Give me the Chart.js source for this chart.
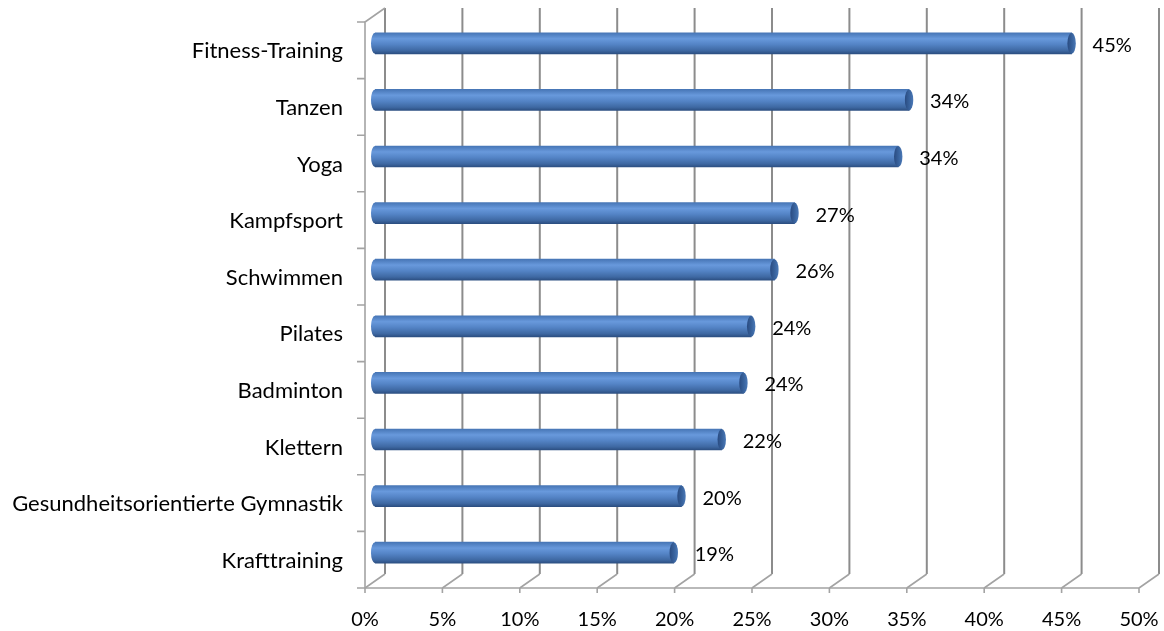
<!DOCTYPE html>
<html>
<head>
<meta charset="utf-8">
<script src="https://cdn.jsdelivr.net/npm/chart.js@4/dist/chart.umd.min.js"></script>
<style>
  html, body { margin: 0; padding: 0; background: #fff; }
  #wrap { width: 1164px; height: 631px; }
</style>
</head>
<body>
<div id="wrap"><canvas id="chart" width="1164" height="631"></canvas></div>
<script>
// Daten
const categories = ['Fitness-Training', 'Tanzen', 'Yoga', 'Kampfsport', 'Schwimmen',
    'Pilates', 'Badminton', 'Klettern', 'Gesundheitsorientierte Gymnastik', 'Krafttraining'];
const values = [45.0, 34.5, 33.8, 27.1, 25.8, 24.3, 23.8, 22.4, 19.8, 19.3];
const valueLabels = ['45%', '34%', '34%', '27%', '26%', '24%', '24%', '22%', '20%', '19%'];
const xTicks = [0, 5, 10, 15, 20, 25, 30, 35, 40, 45, 50];

const FONT = 'Lato, "Open Sans", sans-serif';
const DX = 10, DY = 7;      // halbe Tiefe (3D Versatz)
const BAR_H = 21;

// Gradient für den Zylinder
function cylGradient(c, y) {
    const g = c.createLinearGradient(0, y - BAR_H / 2, 0, y + BAR_H / 2);
    g.addColorStop(0, '#4776b6');
    g.addColorStop(0.28, '#6899dc');
    g.addColorStop(0.55, '#5484c6');
    g.addColorStop(0.85, '#3e68a2');
    g.addColorStop(1, '#2c4f82');
    return g;
}

function noPadding(s) {
    s.paddingTop = 0;
    s.paddingBottom = 0;
    s.paddingLeft = 0;
    s.paddingRight = 0;
}

// 3D Gitter hinter den Balken
const gridPlugin = {
    id: 'grid3d',
    beforeDatasetsDraw(chart) {
        const { ctx, chartArea: a, scales: { x, y } } = chart;
        ctx.save();
        ctx.lineWidth = 2;
        ctx.strokeStyle = '#8c8c8c';
        xTicks.forEach(v => {
            const px = x.getPixelForValue(v);
            ctx.beginPath();
            ctx.moveTo(px + DX, a.top - DY);
            ctx.lineTo(px + DX, a.bottom - DY);
            ctx.stroke();
        });
        ctx.strokeStyle = '#a3a3a3';
        ctx.lineWidth = 1.6;
        xTicks.forEach(v => {
            const px = x.getPixelForValue(v);
            ctx.beginPath();
            ctx.moveTo(px + DX, a.bottom - DY);
            ctx.lineTo(px - DX, a.bottom + DY);
            ctx.moveTo(px - DX, a.bottom + DY);
            ctx.lineTo(px - DX, a.bottom + DY + 5);
            ctx.stroke();
        });
        const x0 = x.getPixelForValue(0), x1 = x.getPixelForValue(50);
        ctx.beginPath();
        ctx.moveTo(x0 - DX, a.bottom + DY);
        ctx.lineTo(x1 - DX, a.bottom + DY);
        // linke Wand
        ctx.moveTo(x0 - DX, a.bottom + DY);
        ctx.lineTo(x0 - DX, a.top + DY);
        ctx.lineTo(x0 + DX, a.top - DY);
        ctx.stroke();
        // Teilstriche links
        const bounds = [a.top];
        for (let i = 0; i < categories.length - 1; i++) {
            bounds.push((y.getPixelForValue(i) + y.getPixelForValue(i + 1)) / 2);
        }
        bounds.push(a.bottom);
        ctx.beginPath();
        bounds.forEach(b => {
            ctx.moveTo(x0 - DX - 8, b + DY);
            ctx.lineTo(x0 - DX, b + DY);
        });
        ctx.stroke();
        ctx.restore();
    },
    afterDatasetsDraw(chart) {
        const { ctx } = chart;
        const meta = chart.getDatasetMeta(0);
        ctx.save();
        meta.data.forEach((bar, i) => {
            const yc = bar.y;
            // linkes Ende
            ctx.beginPath();
            ctx.ellipse(bar.base, yc, 4, BAR_H / 2, 0, Math.PI / 2, Math.PI * 1.5);
            ctx.fillStyle = cylGradient(ctx, yc);
            ctx.fill();
            // Deckfläche rechts
            const g = ctx.createLinearGradient(bar.x - 4, 0, bar.x + 4, 0);
            g.addColorStop(0, '#2a4c82');
            g.addColorStop(0.6, '#3a65a0');
            g.addColorStop(1, '#4a78b6');
            ctx.beginPath();
            ctx.ellipse(bar.x, yc, 4.2, BAR_H / 2, 0, 0, Math.PI * 2);
            ctx.fillStyle = g;
            ctx.fill();
            // Wertbeschriftung
            ctx.fillStyle = '#000';
            ctx.font = '20px ' + FONT;
            ctx.textAlign = 'left';
            ctx.textBaseline = 'middle';
            ctx.fillText(valueLabels[i], bar.x + 21, yc + 2);
        });
        ctx.restore();
    }
};

const ctx = document.getElementById('chart').getContext('2d');
new Chart(ctx, {
    type: 'bar',
    data: {
        labels: categories,
        datasets: [{
            data: values,
            barThickness: BAR_H,
            borderWidth: 0,
            backgroundColor: (c) => {
                const chart = c.chart;
                if (!chart.chartArea) return '#4f81bd';
                return cylGradient(chart.ctx, chart.scales.y.getPixelForValue(c.dataIndex));
            }
        }]
    },
    options: {
        indexAxis: 'y',
        responsive: false,
        animation: false,
        devicePixelRatio: 1,
        layout: { padding: { top: 15, right: 15, left: 0, bottom: 0 } },
        plugins: {
            legend: { display: false },
            tooltip: { enabled: false }
        },
        scales: {
            x: {
                min: 0,
                max: 50,
                afterFit: (s) => { s.height = 50; noPadding(s); },
                afterBuildTicks: (s) => { s.ticks = xTicks.map(v => ({ value: v })); },
                grid: { display: false, drawTicks: false },
                border: { display: false },
                ticks: {
                    padding: 27,
                    labelOffset: -DX,
                    maxRotation: 0,
                    color: '#000',
                    font: { family: FONT, size: 20 },
                    callback: (v) => v + '%'
                }
            },
            y: {
                afterFit: (s) => { s.width = 375; noPadding(s); },
                grid: { display: false, drawTicks: false },
                border: { display: false },
                ticks: {
                    padding: 32,
                    labelOffset: 8,
                    color: '#000',
                    font: { family: FONT, size: 22 }
                }
            }
        }
    },
    plugins: [gridPlugin]
});
</script>
</body>
</html>
